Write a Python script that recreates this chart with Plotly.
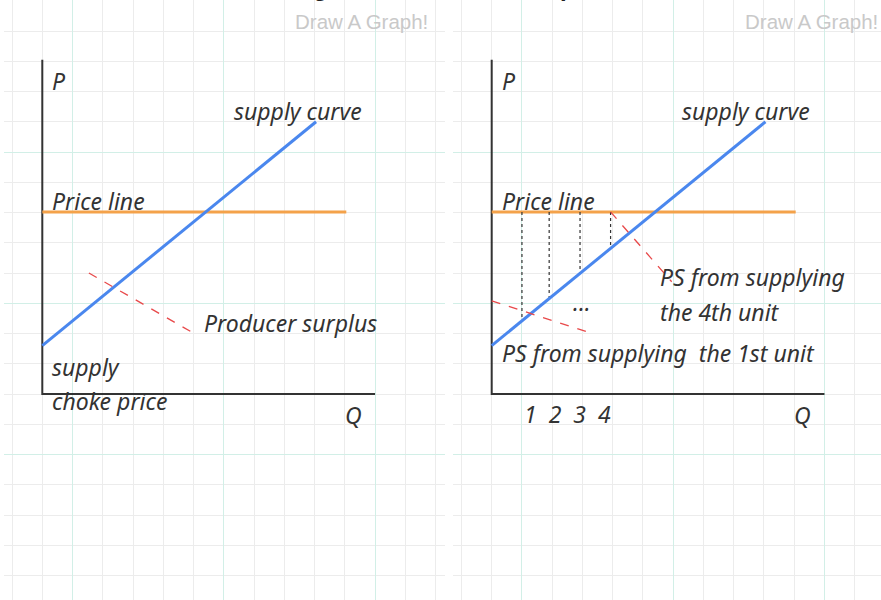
import numpy as np
import plotly.graph_objects as go

# ---- data -------------------------------------------------------------
# supply curve (Q, P) end points, same curve in both panels
supply_q = [0.0, 9.05]
supply_p = [1.6, 9.0]

# market price and the extent of the price line
price_level = 6.02
price_q = [0.0, 10.05]

# lengths of the P and Q axes
q_axis_max = 11.0
p_axis_max = 11.05

# individual units marked off under the price line (right panel)
unit_q = [1.0, 1.9, 2.92, 3.93]
unit_labels = ["1", "2", "3", "4"]

# dashed leader lines pointing at the surplus areas
surplus_leader_q = [1.54, 5.02]
surplus_leader_p = [4.0, 2.0]
first_unit_leader_q = [0.0, 3.38]
first_unit_leader_p = [3.08, 1.98]
fourth_unit_leader_q = [3.93, 5.95]
fourth_unit_leader_p = [6.02, 3.71]

# ---- page geometry ----------------------------------------------------
W, H = 881, 600
CELL = 30.25                      # pixels per grid square
PANELS = [                        # (left px, right px, origin x px)
    (4, 445, 42.3),
    (453, 881, 491.7),
]
ORIGIN_Y = 394.0

HAND = dict(family="Noto Sans", size=23, color="#333333", style="italic")
INK = "#333333"
BLUE = "#4a87ee"
ORANGE = "#f4a24a"
RED = "#e8494a"

fig = go.Figure()


def axis_names(i):
    return ("x", "y") if i == 0 else (f"x{i + 1}", f"y{i + 1}")


def add_line(i, xs, ys, color, width, dash="solid"):
    xr, yr = axis_names(i)
    fig.add_trace(go.Scatter(
        x=xs, y=ys, mode="lines", xaxis=xr, yaxis=yr,
        line=dict(color=color, width=width, dash=dash),
        hoverinfo="skip", showlegend=False,
    ))


def add_text(i, q, p, text, anchor="left", font=None):
    xr, yr = axis_names(i)
    fig.add_annotation(
        x=q, y=p, xref=xr, yref=yr, text=text, showarrow=False,
        xanchor=anchor, yanchor="middle", font=font or HAND,
    )


# graph-paper grid and axes for each panel
for i, (px0, px1, ox) in enumerate(PANELS):
    xr, yr = axis_names(i)
    grid_x = dict(
        domain=[px0 / W, px1 / W],
        range=[(px0 - ox) / CELL, (px1 - ox) / CELL],
        dtick=5, tick0=1, showgrid=True, gridcolor="#d2efe7", gridwidth=1,
        minor=dict(dtick=1, tick0=0, showgrid=True, gridcolor="#ececec", gridwidth=1),
        zeroline=False, showticklabels=False, ticks="", fixedrange=True,
    )
    grid_y = dict(
        domain=[0, 1],
        range=[-(H - ORIGIN_Y) / CELL, ORIGIN_Y / CELL],
        dtick=5, tick0=3, showgrid=True, gridcolor="#d2efe7", gridwidth=1,
        minor=dict(dtick=1, tick0=0, showgrid=True, gridcolor="#ececec", gridwidth=1),
        zeroline=False, showticklabels=False, ticks="", fixedrange=True,
    )
    key = "" if i == 0 else str(i + 1)
    fig.update_layout(**{
        f"xaxis{key}": dict(grid_x, anchor=yr),
        f"yaxis{key}": dict(grid_y, anchor=xr),
    })

    # P and Q axes
    add_line(i, [0, 0, q_axis_max], [p_axis_max, 0, 0], INK, 2)
    # price line
    add_line(i, price_q, [price_level, price_level], ORANGE, 3)

# unit columns between price and supply (right panel)
unit_floor = np.interp(unit_q, supply_q, supply_p)
for q, p in zip(unit_q, unit_floor):
    add_line(1, [q, q], [price_level, p], INK, 1.2, "dot")

# supply curves
for i in range(2):
    add_line(i, supply_q, supply_p, BLUE, 3)

add_line(0, surplus_leader_q, surplus_leader_p, RED, 1.3, "dash")
add_line(1, first_unit_leader_q, first_unit_leader_p, RED, 1.3, "dash")
add_line(1, fourth_unit_leader_q, fourth_unit_leader_p, RED, 1.3, "dash")

# labels, left panel
add_text(0, 0.25, 10.36, "P")
add_text(0, 6.26, 9.36, "supply curve")
add_text(0, 0.25, 6.38, "Price line")
add_text(0, 5.29, 2.35, "Producer surplus")
add_text(0, 0.25, 0.89, "supply")
add_text(0, 0.25, -0.23, "choke price")
add_text(0, 9.93, -0.70, "Q")

# labels, right panel
add_text(1, 0.27, 10.36, "P")
add_text(1, 6.23, 9.36, "supply curve")
add_text(1, 0.27, 6.38, "Price line")
add_text(1, 5.51, 3.87, "PS from supplying")
add_text(1, 5.51, 2.70, "the 4th unit")
add_text(1, 0.27, 1.36, "PS from supplying  the 1st unit")
add_text(1, 2.98, 3.05, "...", anchor="center")
add_text(1, 1.0, -0.66, "  ".join(unit_labels))
add_text(1, 9.92, -0.70, "Q")

# page header (mostly above the top edge) and watermarks
fig.add_annotation(
    x=443 / W, y=1 + 12 / H, xref="paper", yref="paper",
    text="Diagram of Producer Surplus", showarrow=False,
    xanchor="center", yanchor="middle",
    font=dict(family="Liberation Sans", size=24, color="#222222", weight="bold"),
)
for right_px in (430, 880):
    fig.add_annotation(
        x=right_px / W, y=1 - 21 / H, xref="paper", yref="paper",
        text="Draw A Graph!", showarrow=False, xanchor="right", yanchor="middle",
        font=dict(family="Liberation Sans", size=20.5, color="#c9c9c9"),
    )

fig.update_layout(
    width=W, height=H,
    margin=dict(l=0, r=0, t=0, b=0),
    paper_bgcolor="white", plot_bgcolor="white",
    showlegend=False,
)

fig.write_html("out.html")
